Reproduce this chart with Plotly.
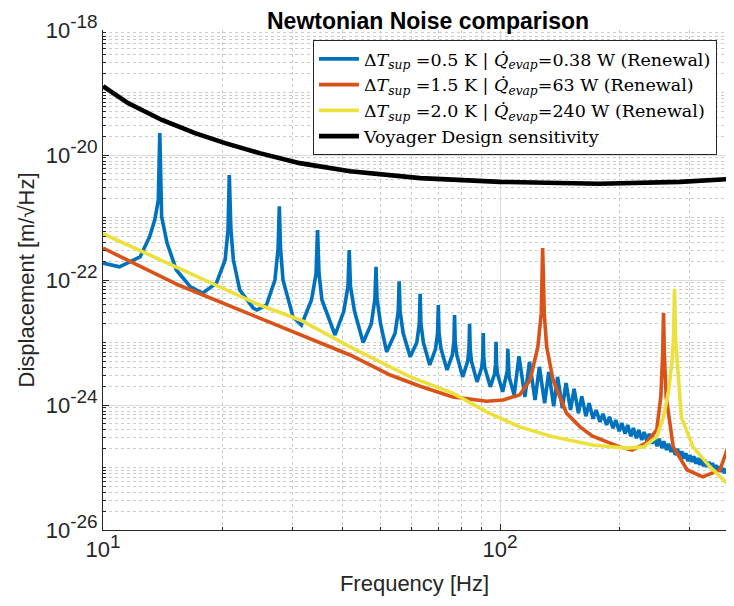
import plotly.graph_objects as go

# ---------------- data (frequency in Hz, displacement as log10 of m/sqrt(Hz)) ----------------
blue_points = [
    (10, -21.73), (11.0, -21.79), (12.4, -21.63), (13.1, -21.31), (13.5, -21.04), (13.78, -20.72),
    (13.9, -19.65), (14.05, -20.99), (14.5, -21.41), (15.3, -21.84), (16.6, -22.11), (17.8, -22.21),
    (19.3, -22.05), (20.3, -21.68), (20.65, -21.2), (20.8, -20.32), (21.0, -21.2), (21.3, -21.68),
    (22.1, -22.16), (23.9, -22.45), (24.4, -22.48), (25.8, -22.40), (27.1, -22.0), (27.6, -21.5),
    (27.8, -20.82), (28.0, -21.5), (28.4, -22.0), (30.1, -22.59), (31.6, -22.72), (33.5, -22.32),
    (34.4, -21.9), (34.7, -21.20), (35.0, -21.9), (35.6, -22.32), (38.4, -22.88), (40.4, -22.5),
    (41.4, -22.1), (41.7, -21.52), (42.0, -22.1), (43.0, -22.5), (45.2, -23.0), (47.4, -22.7),
    (48.4, -22.3), (48.7, -21.79), (49.0, -22.3), (50.0, -22.7), (51.8, -23.15), (54.4, -22.85),
    (55.4, -22.5), (55.7, -22.02), (56.0, -22.5), (57.0, -22.85), (59.4, -23.23), (61.7, -23.0),
    (62.6, -22.7), (62.9, -22.22), (63.2, -22.7), (64.1, -23.0), (66.5, -23.36), (68.8, -23.1),
    (69.6, -22.85), (69.9, -22.40), (70.2, -22.85), (71.0, -23.1), (73.5, -23.44), (75.8, -23.2),
    (76.5, -23.0), (76.8, -22.56), (77.1, -23.0), (77.8, -23.2), (80.5, -23.55), (82.9, -23.3),
    (83.5, -23.1), (83.8, -22.70), (84.1, -23.1), (84.7, -23.3), (87.5, -23.63), (89.9, -23.4),
    (90.4, -23.25), (90.7, -22.85), (91.0, -23.25), (91.5, -23.4), (94.5, -23.71), (96.9, -23.5),
    (97.4, -23.35), (97.7, -22.99), (98.0, -23.35), (98.5, -23.5), (101.5, -23.79), (103.8, -23.55),
    (104.3, -23.45), (104.6, -23.10), (104.9, -23.45), (105.4, -23.55), (108.5, -23.84),
    (111.6, -23.22), (115.5, -23.87), (118.6, -23.31), (122.5, -23.92), (125.6, -23.39),
    (129.5, -23.97), (132.6, -23.47), (136.5, -24.02), (139.6, -23.55), (143.5, -24.05),
    (146.6, -23.65), (150.5, -24.08), (153.6, -23.74), (157.5, -24.13), (160.6, -23.86),
    (164.5, -24.18), (167.6, -23.97), (171.5, -24.22), (174.6, -24.08), (178.5, -24.27),
    (181.6, -24.14), (185.5, -24.32), (188.6, -24.19), (192.5, -24.37), (195.6, -24.24),
    (199.5, -24.42), (202.6, -24.29), (206.5, -24.46), (209.6, -24.32), (213.5, -24.50),
    (216.6, -24.37), (220.5, -24.53), (223.6, -24.40), (227.5, -24.56), (230.6, -24.43),
    (234.5, -24.59), (237.6, -24.46), (241.5, -24.62), (244.6, -24.51), (248.5, -24.66),
    (251.6, -24.54), (255.5, -24.69), (258.6, -24.58), (262.5, -24.72), (265.6, -24.62),
    (269.5, -24.75), (272.6, -24.67), (276.5, -24.80), (279.6, -24.70), (283.5, -24.83),
    (286.6, -24.74), (290.5, -24.86), (293.6, -24.77), (297.5, -24.90), (300.6, -24.80),
    (304.5, -24.91), (307.6, -24.82), (311.5, -24.94), (314.6, -24.85), (318.5, -24.96),
    (321.6, -24.86), (325.5, -24.98), (328.6, -24.88), (332.5, -24.99), (335.6, -24.91),
    (339.5, -25.01), (342.6, -24.93), (346.5, -25.02), (349.6, -24.96), (353.5, -25.06),
    (356.6, -24.98), (360.5, -25.07), (363.6, -25.01), (367.5, -25.09), (370.6, -25.02),
    (374.5, -25.10), (377.6, -25.04), (381.5, -25.12), (384.6, -25.06), (388.5, -25.13),
    (391.6, -25.07),
]

orange_freq = [10, 15.5, 24.8, 41.9, 52.9, 62.9, 76, 92.5, 101.7, 112, 119, 124.5, 127, 128,
               129.2, 131, 136, 147, 159, 171, 200, 215, 233, 248, 254, 256.7, 258, 259.3,
               262, 273, 296, 324, 358, 375, 384, 387.5, 391]
orange_logy = [-21.49, -22.08, -22.61, -23.2, -23.52, -23.70, -23.87, -23.94, -23.92, -23.84,
               -23.6, -23.07, -22.53, -21.49, -22.53, -23.07, -23.6, -24.13, -24.35, -24.50,
               -24.67, -24.72, -24.61, -24.4, -23.87, -23.2, -22.53, -23.2, -23.87, -24.67,
               -25.04, -25.15, -25.04, -24.67, -23.87, -23.2, -23.87]

yellow_freq = [10, 24.8, 31.4, 41.9, 59.4, 76, 92.5, 112, 136, 150, 171, 208, 230, 248, 258,
               266, 271, 273.5, 275, 276.5, 279, 286, 306, 338, 372, 392]
yellow_logy = [-21.26, -22.40, -22.64, -23.07, -23.55, -23.81, -24.11, -24.35, -24.51, -24.57,
               -24.64, -24.69, -24.67, -24.51, -24.19, -23.76, -23.3, -22.9, -22.14, -22.9,
               -23.3, -24.19, -24.67, -24.99, -25.25, -25.33]

black_freq = [10, 11.56, 14.07, 17.05, 20.3, 24.8, 31.3, 41.9, 62.9, 100, 178, 284, 392]
black_logy = [-18.90, -19.17, -19.44, -19.65, -19.81, -19.97, -20.13, -20.26, -20.37, -20.43,
              -20.46, -20.43, -20.38]

series_names = [
    "Δ<i>T</i><sub><i>sup</i></sub> =0.5 K | <i>Q\u0307</i><sub><i>evap</i></sub>=0.38 W (Renewal)",
    "Δ<i>T</i><sub><i>sup</i></sub> =1.5 K | <i>Q\u0307</i><sub><i>evap</i></sub>=63 W (Renewal)",
    "Δ<i>T</i><sub><i>sup</i></sub> =2.0 K | <i>Q\u0307</i><sub><i>evap</i></sub>=240 W (Renewal)",
    "Voyager Design sensitivity",
]
series_colors = ["#0072BD", "#D95319", "#ECE13C", "#000000"]

y_tick_exponents = [-26, -24, -22, -20, -18]
x_tick_exponents = [1, 2]

# ---------------- build ----------------
blue_freq = [p[0] for p in blue_points]
blue_disp = [10 ** p[1] for p in blue_points]
orange_disp = [10 ** v for v in orange_logy]
yellow_disp = [10 ** v for v in yellow_logy]
black_disp = [10 ** v for v in black_logy]

fig = go.Figure()
traces = [
    (blue_freq, blue_disp, 3.6),
    (orange_freq, orange_disp, 3.6),
    (yellow_freq, yellow_disp, 3.6),
    (black_freq, black_disp, 4.6),
]
for (fx, fy, w), name, col in zip(traces, series_names, series_colors):
    fig.add_trace(go.Scatter(x=fx, y=fy, mode="lines", name=name,
                             line=dict(color=col, width=w), hoverinfo="skip"))

sans = "Liberation Sans, Arial, Helvetica, sans-serif"
serif = "DejaVu Serif, Liberation Serif, serif"


def power_label(e):
    return f"10<sup><span style='font-size:19px'>{e}</span></sup>"


fig.update_layout(
    width=718, height=590,
    margin=dict(l=95, r=0, t=22, b=68, autoexpand=False),
    paper_bgcolor="white", plot_bgcolor="white",
    title=dict(text="<b>Newtonian Noise comparison</b>", x=0.585, xref="container",
               xanchor="center", y=0.991, yref="container", yanchor="top",
               pad=dict(t=0, b=0),
               font=dict(family=sans, size=23, color="#000000")),
    legend=dict(x=0.337, y=0.98, xanchor="left", yanchor="top",
                bgcolor="white", bordercolor="#262626", borderwidth=1,
                font=dict(family=serif, size=17.5, color="#000000"),
                tracegroupgap=0, itemwidth=40),
    showlegend=True,
)

fig.update_xaxes(
    type="log", range=[1, 2.569], automargin=False,
    tickmode="array", tickvals=[10 ** e for e in x_tick_exponents],
    ticktext=[power_label(e) for e in x_tick_exponents],
    tickfont=dict(family=sans, size=22, color="#262626"),
    showgrid=True, gridcolor="#dcdcdc", gridwidth=1,
    ticks="inside", ticklen=6, tickcolor="#262626",
    showline=True, linecolor="#262626", linewidth=1, mirror=False,
    zeroline=False,
    minor=dict(dtick="D1", showgrid=True, gridcolor="#cccccc", griddash="dot",
               ticks="inside", ticklen=3, tickcolor="#262626"),
    title=dict(text="Frequency [Hz]", font=dict(family=sans, size=22, color="#262626"),
               standoff=14),
)
fig.update_yaxes(
    type="log", range=[-26, -18], automargin=False,
    tickmode="array", tickvals=[10.0 ** e for e in y_tick_exponents],
    ticktext=[power_label(e) for e in y_tick_exponents],
    tickfont=dict(family=sans, size=22, color="#262626"),
    showgrid=True, gridcolor="#dcdcdc", gridwidth=1,
    ticks="inside", ticklen=6, tickcolor="#262626",
    showline=True, linecolor="#262626", linewidth=1, mirror=False,
    zeroline=False,
    minor=dict(dtick="D1", showgrid=True, gridcolor="#cccccc", griddash="dot",
               ticks="inside", ticklen=3, tickcolor="#262626"),
    title=dict(text="Displacement [m/√Hz]", font=dict(family=sans, size=22, color="#262626"),
               standoff=4),
)

fig.write_html("out.html")
